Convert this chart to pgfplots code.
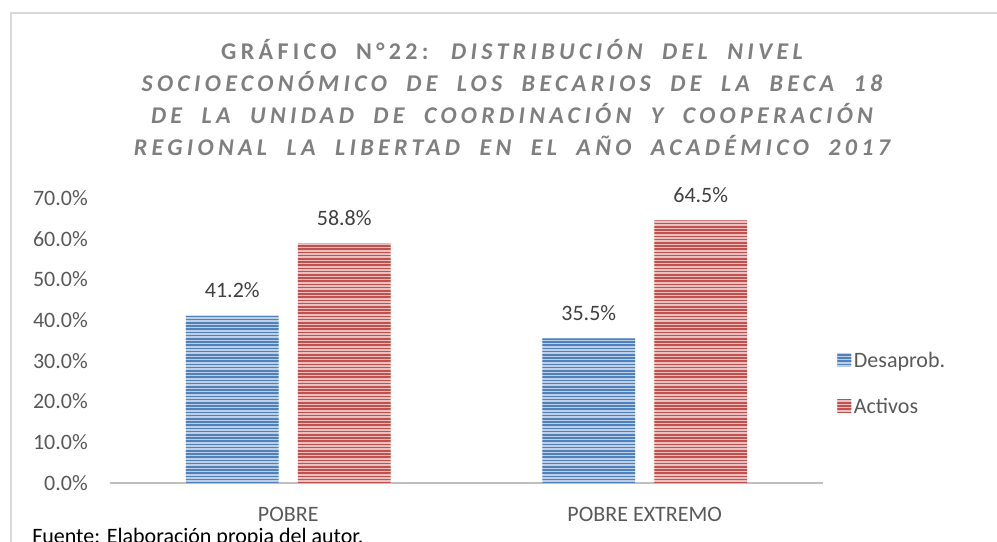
\documentclass[border=0pt]{standalone}
\usepackage{fontspec}
\setmainfont{Carlito}
\newfontfamily\titlefont[LetterSpace=18,WordSpace=2]{Carlito}
\usepackage{pgfplots}
\pgfplotsset{compat=1.18}
\usetikzlibrary{patterns}

\definecolor{blueD}{HTML}{4F81BD}
\definecolor{blueL}{HTML}{BCCFE7}
\definecolor{redD}{HTML}{C0504D}
\definecolor{redL}{HTML}{EBC0BF}
\definecolor{tickgray}{HTML}{595959}
\definecolor{labgray}{HTML}{404040}
\definecolor{titlegray}{HTML}{7F7F7F}
\definecolor{framegray}{HTML}{D9D9D9}
\definecolor{axisgray}{HTML}{BFBFBF}

% wide tile, so that no seams cross a bar
\pgfdeclarepatternformonly{hstripes}{\pgfpoint{-1pt}{0pt}}{\pgfpoint{801pt}{2.4pt}}{\pgfpoint{800pt}{2.4pt}}%
{\pgfsetlinewidth{1.1pt}\pgfpathmoveto{\pgfpoint{-1pt}{1.2pt}}\pgfpathlineto{\pgfpoint{801pt}{1.2pt}}\pgfusepath{stroke}}

\newcommand\lbl{\fontsize{16.5}{20}\selectfont}

\pgfplotsset{
  stripes/.style={fill=#1L, draw=none,
    postaction={pattern=hstripes, pattern color=#1D}},
}

\begin{document}
\begin{tikzpicture}
% page = 997 x 542 px, 1 px = 0.75pt
\useasboundingbox (0,0) rectangle (747.75pt,406.5pt);

% chart area frame (cut by the page on the right and bottom)
\draw[framegray, line width=1.1pt] (8.25pt,0pt) -- (8.25pt,396.75pt) -- (760pt,396.75pt);

% title
\node[align=center, inner sep=0pt, text=titlegray,
      font=\titlefont\fontsize{18}{24}\selectfont\bfseries]
  at (384pt,333pt)
  {GRÁFICO N°22: \itshape DISTRIBUCIÓN DEL NIVEL\\
   \itshape SOCIOECONÓMICO DE LOS BECARIOS DE LA BECA 18\\
   \itshape DE LA UNIDAD DE COORDINACIÓN Y COOPERACIÓN\\
   \itshape REGIONAL LA LIBERTAD EN EL AÑO ACADÉMICO 2017};

\begin{axis}[
  at={(82.5pt,44.25pt)}, anchor=south west,
  scale only axis, width=534.75pt, height=213.75pt,
  xmin=-0.5, xmax=1.5, ymin=0, ymax=70,
  xtick={0,1}, xticklabels={POBRE,POBRE EXTREMO},
  ytick={0,10,...,70},
  yticklabel={\pgfmathprintnumber[fixed,fixed zerofill,precision=1]{\tick}\%},
  /pgf/number format/assume math mode=true,
  axis lines=left, axis line style={-},
  x axis line style={draw=axisgray, line width=1.5pt},
  y axis line style={draw=none},
  major tick length=0pt,
  tick label style={font=\lbl, text=tickgray},
  yticklabel style={anchor=east, inner sep=0pt, xshift=-16.5pt},
  xticklabel style={anchor=north, inner sep=0pt, yshift=-18pt},
  ybar, bar width=0.26,
  nodes near coords={\pgfmathprintnumber[fixed,fixed zerofill,precision=1]{\pgfplotspointmeta}\%},
  nodes near coords style={font=\lbl, text=labgray, anchor=center, inner sep=0pt, yshift=19pt},
  legend cell align=left,
  legend style={at={(1.014,0.34)}, anchor=west, draw=none, fill=none,
    font=\lbl, text=tickgray, row sep=19pt,
    nodes={inner sep=2pt, text height=0.75em, text depth=0.25em}},
  legend image code/.code={\path[#1] (0pt,-2pt) rectangle (10.5pt,8.5pt);},
  clip=false,
]
\addplot[stripes=blue, bar shift=-0.157] coordinates {(0,41.2) (1,35.5)};
\addplot[stripes=red, bar shift=0.157] coordinates {(0,58.8) (1,64.5)};
\legend{Desaprob.,Activos}
\end{axis}

% source note (partly cut by the bottom edge, as in the original)
\node[anchor=base west, inner sep=0pt, font=\lbl, text=black] at (24pt,-1.5pt)
  {Fuente: Elaboración propia del autor.};
\end{tikzpicture}
\end{document}
